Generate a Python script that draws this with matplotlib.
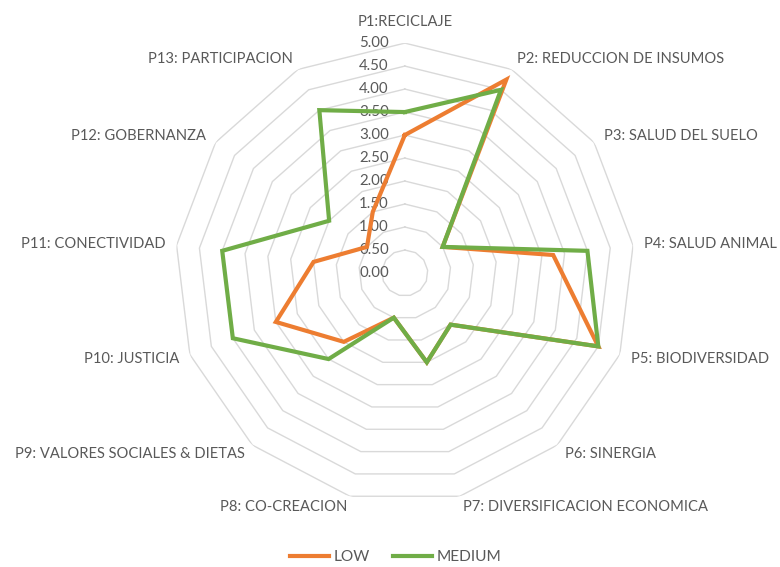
import numpy as np
import matplotlib
matplotlib.use('Agg')
import matplotlib.pyplot as plt
from matplotlib.lines import Line2D

# data
categories = ['P1:RECICLAJE', 'P2: REDUCCION DE INSUMOS', 'P3: SALUD DEL SUELO',
  'P4: SALUD ANIMAL', 'P5: BIODIVERSIDAD', 'P6: SINERGIA',
  'P7: DIVERSIFICACION ECONOMICA', 'P8: CO-CREACION',
  'P9: VALORES SOCIALES & DIETAS', 'P10: JUSTICIA', 'P11: CONECTIVIDAD',
  'P12: GOBERNANZA', 'P13: PARTICIPACION']
low = [3.0, 4.75, 1.0, 3.25, 4.5, 1.5, 2.0, 1.0, 2.0, 3.0, 2.0, 1.0, 1.5]
medium = [3.5, 4.5, 1.0, 4.0, 4.5, 1.5, 2.0, 1.0, 2.5, 4.0, 4.0, 2.0, 4.0]
ticks = [0.0, 0.5, 1.0, 1.5, 2.0, 2.5, 3.0, 3.5, 4.0, 4.5, 5.0]
series_names = ['LOW', 'MEDIUM']
colors = ['#ED7D31', '#70AD47']

plt.rcParams['font.family'] = ['Lato', 'DejaVu Sans']
text_color = '#595959'
grid_color = '#D9D9D9'

fig = plt.figure(figsize=(7.8, 5.67), dpi=100)
ax = fig.add_axes([0.224, 0.113, 0.59, 0.811], projection='polar')
ax.set_theta_zero_location('N')
ax.set_theta_direction(-1)
ax.set_ylim(0, 5)
ax.set_axis_off()

n = len(categories)
theta = np.linspace(0, 2 * np.pi, n, endpoint=False)
theta_closed = np.append(theta, theta[0])

# polygon rings
for t in ticks[1:]:
  ax.plot(theta_closed, [t] * (n + 1), color=grid_color, lw=1.0, zorder=1)

# value labels along the first spoke
for t in ticks:
  ax.annotate('%.2f' % t, xy=(0, t), xytext=(-11.5, 0), textcoords='offset points',
    ha='right', va='center', fontsize=10.8, color=text_color, zorder=2)

# series (medium drawn last, on top)
for vals, name, c in zip([low, medium], series_names, colors):
  v = list(vals) + [vals[0]]
  ax.plot(theta_closed, v, color=c, lw=3.0, zorder=3, solid_joinstyle='miter')

# category labels
for th, lab in zip(theta, categories):
  s = np.sin(th)
  if abs(s) < 0.05:
    ax.text(th, 5.45, lab, ha='center', va='center', fontsize=10.6, color=text_color)
  elif s > 0:
    ax.text(th, 5.25, lab, ha='left', va='center', fontsize=10.6, color=text_color)
  else:
    ax.text(th, 5.25, lab, ha='right', va='center', fontsize=10.6, color=text_color)

handles = [Line2D([0], [0], color=c, lw=3.0) for c in colors]
fig.legend(handles, series_names, loc='lower center', bbox_to_anchor=(0.507, -0.02),
  ncol=2, frameon=False, fontsize=11.2, handlelength=2.5, handletextpad=0.3,
  columnspacing=1.5, labelcolor=text_color)

fig.savefig('out.png', dpi=100, facecolor='white')
